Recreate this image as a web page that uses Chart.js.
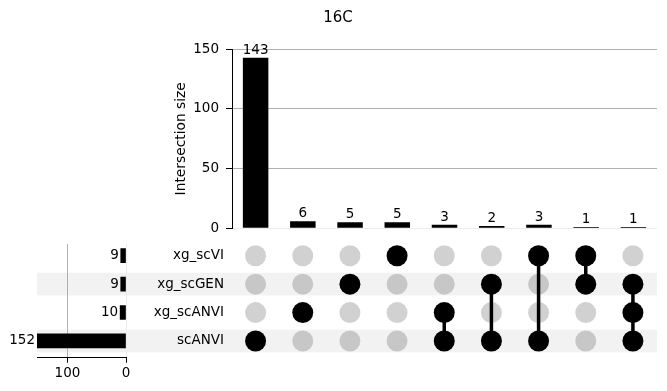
<!DOCTYPE html>
<html><head><meta charset="utf-8">
<script src="https://cdn.jsdelivr.net/npm/chart.js@4"></script>
<style>
html,body{margin:0;padding:0;background:#fff;}
#wrap{position:relative;width:667px;height:391px;overflow:hidden;background:#fff;}
canvas{position:absolute;}
</style></head><body>
<div id="wrap">
<canvas id="top" width="667" height="244" style="left:0;top:0"></canvas>
<canvas id="matrix" width="667" height="166" style="left:0;top:225px"></canvas>
<canvas id="sets" width="140" height="156" style="left:0;top:235px"></canvas>
</div>
<script>
const chartTitle = '16C';
const yAxisTitle = 'Intersection size';
const setNames = ['xg_scVI', 'xg_scGEN', 'xg_scANVI', 'scANVI'];
const setSizes = [9, 9, 10, 152];
const intersectionMembers = [
  ['scANVI'],
  ['xg_scANVI'],
  ['xg_scGEN'],
  ['xg_scVI'],
  ['xg_scANVI', 'scANVI'],
  ['xg_scGEN', 'scANVI'],
  ['xg_scVI', 'scANVI'],
  ['xg_scVI', 'xg_scGEN'],
  ['xg_scGEN', 'xg_scANVI', 'scANVI']
];
const intersectionSizes = [143, 6, 5, 5, 3, 2, 3, 1, 1];
const intersectionTicks = [0, 50, 100, 150];
const setSizeTicks = [0, 100];

Chart.defaults.font.family = 'DejaVu Sans';
Chart.defaults.font.size = 13.5;
Chart.defaults.color = '#000';

const gridColor = c => (c.tick && c.tick.value === 0) ? '#ececec' : '#b0b0b0';

// ---- Top: intersection size bars ----
const barLabels = {
  id: 'barLabels',
  afterDatasetsDraw(chart) {
    const {ctx} = chart;
    const meta = chart.getDatasetMeta(0);
    ctx.save();
    ctx.fillStyle = '#000';
    ctx.font = '13.5px "DejaVu Sans"';
    ctx.textAlign = 'center';
    ctx.textBaseline = 'alphabetic';
    meta.data.forEach((bar, i) => {
      ctx.fillText(String(intersectionSizes[i]), bar.x, bar.y - 4);
    });
    ctx.restore();
  }
};

new Chart(document.getElementById('top'), {
  type: 'bar',
  data: {
    labels: intersectionMembers.map(m => m.join(' & ')),
    datasets: [{
      data: intersectionSizes,
      backgroundColor: '#000',
      barPercentage: 0.54,
      categoryPercentage: 1
    }]
  },
  options: {
    responsive: false,
    animation: false,
    layout: {padding: {left: 19, right: 10, top: 0, bottom: 15.7}},
    plugins: {
      legend: {display: false},
      tooltip: {enabled: false},
      title: {
        display: true, text: chartTitle, color: '#000',
        font: {size: 15, weight: 'normal'},
        padding: {top: 9, bottom: 22.3}
      }
    },
    scales: {
      x: {display: false},
      y: {
        min: 0, max: 150,
        afterBuildTicks: s => { s.ticks = intersectionTicks.map(v => ({value: v})); },
        ticks: {color: '#000', padding: 7},
        grid: {color: gridColor, tickColor: '#000', tickLength: 6},
        border: {display: true, color: '#000'},
        title: {
          display: true, text: yAxisTitle, color: '#000',
          font: {size: 13.8}, padding: {top: 153.7, bottom: 0}
        },
        afterFit: s => { s.width = 213; }
      }
    }
  },
  plugins: [barLabels]
});

// ---- Matrix ----
const activePts = [], inactivePts = [], lineSets = [];
intersectionMembers.forEach((m, c) => {
  const rows = m.map(n => setNames.indexOf(n));
  setNames.forEach((s, r) => {
    (rows.includes(r) ? activePts : inactivePts).push({x: c, y: r});
  });
  if (rows.length > 1) {
    lineSets.push({
      type: 'line',
      data: [{x: c, y: Math.min(...rows)}, {x: c, y: Math.max(...rows)}],
      borderColor: '#000', borderWidth: 3.5, pointRadius: 0,
      showLine: true, order: 1, clip: false
    });
  }
});

const shade = {
  id: 'shade',
  beforeDatasetsDraw(chart) {
    const {ctx} = chart;
    const y = chart.scales.y;
    ctx.save();
    ctx.fillStyle = 'rgba(0,0,0,0.05)';
    setNames.forEach((s, r) => {
      if (r % 2 === 1) {
        const y0 = y.getPixelForValue(r - 0.4), y1 = y.getPixelForValue(r + 0.4);
        ctx.fillRect(37, Math.min(y0, y1), 620, Math.abs(y1 - y0));
      }
    });
    ctx.restore();
  }
};

new Chart(document.getElementById('matrix'), {
  type: 'scatter',
  data: {
    datasets: [
      {data: activePts, backgroundColor: '#000', pointRadius: 10.5, pointBorderWidth: 0, order: 0, clip: false},
      ...lineSets,
      {data: inactivePts, backgroundColor: 'rgba(0,0,0,0.18)', pointRadius: 10.5, pointBorderWidth: 0, order: 2, clip: false}
    ]
  },
  options: {
    responsive: false,
    animation: false,
    layout: {padding: {left: 0, right: 10, top: 16.5, bottom: 35.8}},
    plugins: {legend: {display: false}, tooltip: {enabled: false}},
    scales: {
      x: {type: 'linear', min: -0.5, max: 8.5, display: false, offset: false},
      y: {
        type: 'linear', min: -0.5, max: 3.5, reverse: true, offset: false,
        afterBuildTicks: s => { s.ticks = setNames.map((_, i) => ({value: i})); },
        ticks: {color: '#000', padding: 8, callback: v => setNames[v]},
        grid: {display: false, drawTicks: false},
        border: {display: false},
        afterFit: s => { s.width = 232; }
      }
    }
  },
  plugins: [shade]
});

// ---- Left: set sizes ----
const setLabels = {
  id: 'setLabels',
  afterDatasetsDraw(chart) {
    const {ctx} = chart;
    const meta = chart.getDatasetMeta(0);
    ctx.save();
    ctx.fillStyle = '#000';
    ctx.font = '13.5px "DejaVu Sans"';
    ctx.textAlign = 'right';
    ctx.textBaseline = 'middle';
    meta.data.forEach((bar, i) => {
      ctx.fillText(String(setSizes[i]), bar.x - 2, bar.y);
    });
    ctx.restore();
  }
};

new Chart(document.getElementById('sets'), {
  type: 'bar',
  data: {
    datasets: [{
      data: setSizes.map((v, i) => ({x: v, y: i})),
      backgroundColor: '#000',
      barThickness: 14
    }]
  },
  options: {
    indexAxis: 'y',
    responsive: false,
    animation: false,
    layout: {padding: {left: 37, right: 14, top: 9, bottom: 0}},
    plugins: {legend: {display: false}, tooltip: {enabled: false}},
    scales: {
      x: {
        type: 'linear', min: 0, max: 152, reverse: true,
        afterBuildTicks: s => { s.ticks = setSizeTicks.map(v => ({value: v})); },
        ticks: {color: '#000', padding: 3, maxRotation: 0},
        grid: {color: gridColor, tickColor: '#000', tickLength: 5},
        border: {display: true, color: '#000'},
        afterFit: s => { s.height = 33.3; }
      },
      y: {type: 'linear', min: -0.41, max: 3.59, reverse: true, display: false, offset: false}
    }
  },
  plugins: [setLabels]
});
</script>
</body></html>
